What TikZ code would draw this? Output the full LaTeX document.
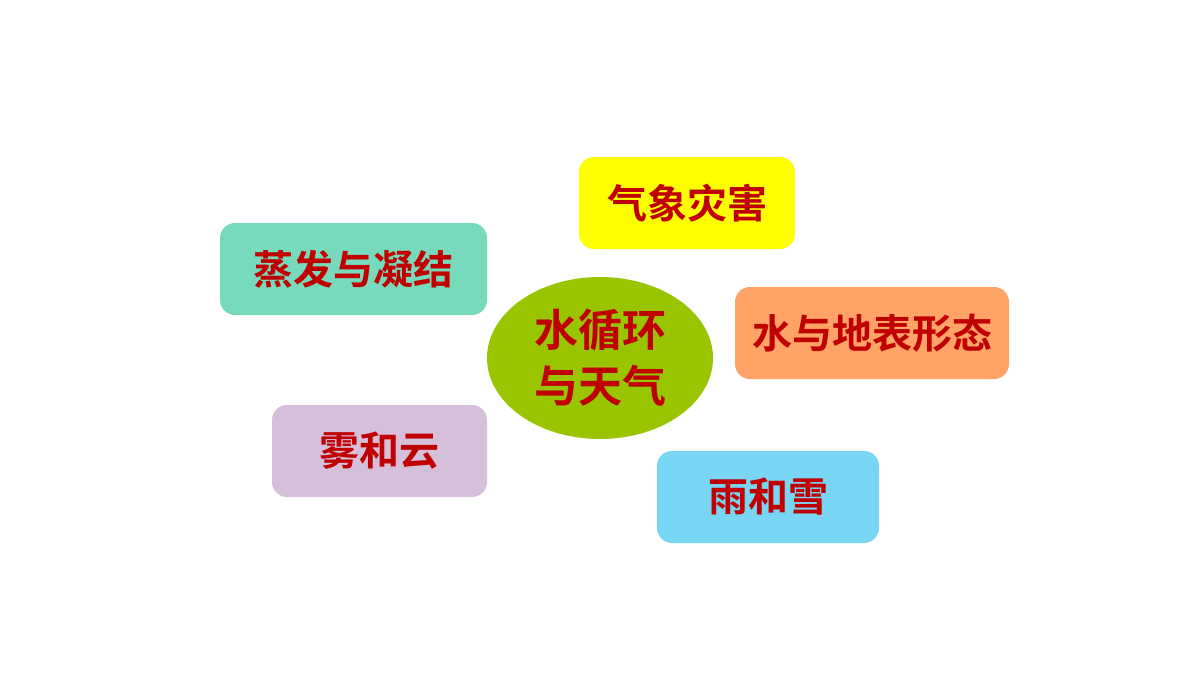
\documentclass[tikz,border=0pt]{standalone}
\usepackage{fontspec}
\setmainfont{Noto Sans CJK SC Bold}
\usetikzlibrary{shapes,positioning}

\definecolor{hubgreen}{HTML}{99C400}
\definecolor{txtred}{HTML}{C00000}
\definecolor{boxyellow}{HTML}{FFFF00}
\definecolor{boxteal}{HTML}{78DABC}
\definecolor{boxorange}{HTML}{FFA466}
\definecolor{boxlilac}{HTML}{D6BFDA}
\definecolor{boxblue}{HTML}{78D5F4}

\begin{document}
\begin{tikzpicture}[x=1pt,y=-1pt,thick,
    hub node/.style={ellipse,fill=hubgreen,text=txtred,minimum width=226pt,minimum height=162pt,inner sep=0pt,align=center,font=\fontsize{44}{56}\selectfont},
    topic node/.style={rectangle,rounded corners=15pt,text=txtred,minimum height=92pt,inner sep=0pt,font=\fontsize{40}{48}\selectfont}]

            \useasboundingbox (0,0) rectangle (1200,675);

            \node[hub node] (hub) at (600,358) {水循环\\与天气};

            \foreach \name/\cx/\cy/\w/\col/\txt in {
                disaster/687/203/216/boxyellow/气象灾害,
                evap/353.5/269/267/boxteal/蒸发与凝结,
                landform/872/333/274/boxorange/水与地表形态,
                fog/379.5/451/215/boxlilac/雾和云,
                rain/768/497/222/boxblue/雨和雪}{
                \node[topic node,fill=\col,minimum width=\w pt] (\name) at (\cx,\cy) {\txt};
            }

        \end{tikzpicture}
\end{document}
